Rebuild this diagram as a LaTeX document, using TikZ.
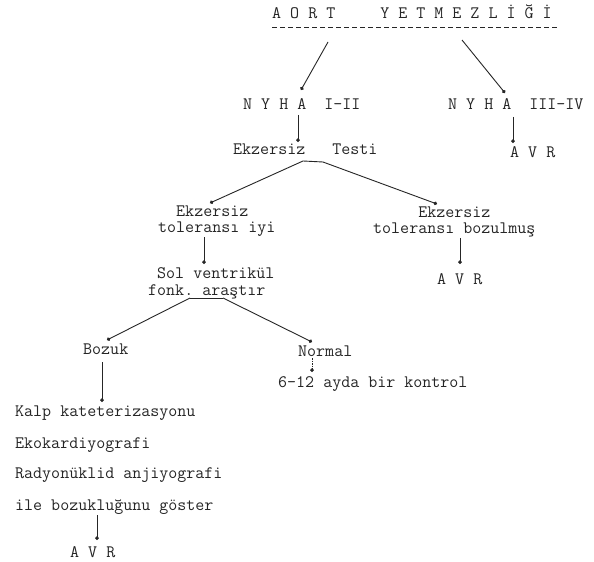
\documentclass[tikz,border=0pt]{standalone}
\usetikzlibrary{arrows.meta}
\begin{document}
\begin{tikzpicture}[x=1bp,y=-1bp,
  txt/.style={anchor=base west,inner sep=0pt,text=black!85,font=\fontsize{17.5bp}{16.5bp}\ttfamily},
  two/.style={txt,align=left},
  conn/.style={draw=black!85,line width=0.9bp,-{Circle[length=3.6bp]}},
  plain/.style={draw=black!85,line width=0.9bp}]
\useasboundingbox[fill=white] (0,0) rectangle (594,562);
% texts
\node[txt] (title) at (272,19) {A~O~R~T~~~~~Y~E~T~M~E~Z~L~İ~Ğ~İ};
\node[txt] (n1) at (243,110) {N~Y~H~A~~I-II};
\node[txt] (n2) at (448,110) {N~Y~H~A~~III-IV};
\node[txt] (et) at (233,155) {Ekzersiz~~~Testi};
\node[txt] (avr1) at (510,158) {A~V~R};
\node[two] (ti) at (158,233) {~~Ekzersiz\\toleransı~iyi};
\node[two] (tb) at (373,234) {~~~~~Ekzersiz\\toleransı~bozulmuş};
\node[txt] (avr2) at (437,284) {A~V~R};
\node[two] (sv) at (148,295) {~Sol~ventrikül\\fonk.~araştır};
\node[txt] (bz) at (83,354) {Bozuk};
\node[txt] (nr) at (298,356) {Normal};
\node[txt] (kt) at (278,387) {6-12~ayda~bir~kontrol};
\node[txt] (k1) at (15,416) {Kalp~kateterizasyonu};
\node[txt] (k2) at (15,448) {Ekokardiyografi};
\node[txt] (k3) at (15,478) {Radyonüklid~anjiyografi};
\node[txt] (k4) at (15,510) {ile~bozukluğunu~göster};
\node[txt] (avr3) at (70,557) {A~V~R};
% dashed underline
\coordinate (ul1) at (272,27);
\coordinate (ul2) at (557,27);
\draw[plain,dash pattern=on 5bp off 3bp] (ul1) -- (ul2);
% coordinates for connectors
\coordinate (a1) at (328,42);   \coordinate (b1) at (301,90);
\coordinate (a2) at (462,40);   \coordinate (b2) at (505,93);
\coordinate (a3) at (298,115);  \coordinate (b3) at (298,142);
\coordinate (a4) at (513,117);  \coordinate (b4) at (513,143);
\coordinate (f1a) at (303,161); \coordinate (f1b) at (323,162);
\coordinate (b5) at (210,203);  \coordinate (b6) at (437,204);
\coordinate (a7) at (204,237);  \coordinate (b7) at (204,264);
\coordinate (a8) at (460,238);  \coordinate (b8) at (460,264);
\coordinate (f2a) at (190,298); \coordinate (f2b) at (223,298);
\coordinate (b9) at (107,340);  \coordinate (b10) at (312,342);
\coordinate (a11) at (102,362); \coordinate (b11) at (102,402);
\coordinate (a12) at (312,358); \coordinate (b12) at (312,372);
\coordinate (a13) at (97,515);  \coordinate (b13) at (97,540);
\draw[conn] (a1) -- (b1);
\draw[conn] (a2) -- (b2);
\draw[conn] (a3) -- (b3);
\draw[conn] (a4) -- (b4);
\draw[plain] (f1a) -- (f1b);
\draw[conn] (f1a) -- (b5);
\draw[conn] (f1b) -- (b6);
\draw[conn] (a7) -- (b7);
\draw[conn] (a8) -- (b8);
\draw[plain] (f2a) -- (f2b);
\draw[conn] (f2a) -- (b9);
\draw[conn] (f2b) -- (b10);
\draw[conn] (a11) -- (b11);
\draw[conn,dash pattern=on 1.5bp off 1bp] (a12) -- (b12);
\draw[conn] (a13) -- (b13);
\end{tikzpicture}
\end{document}
